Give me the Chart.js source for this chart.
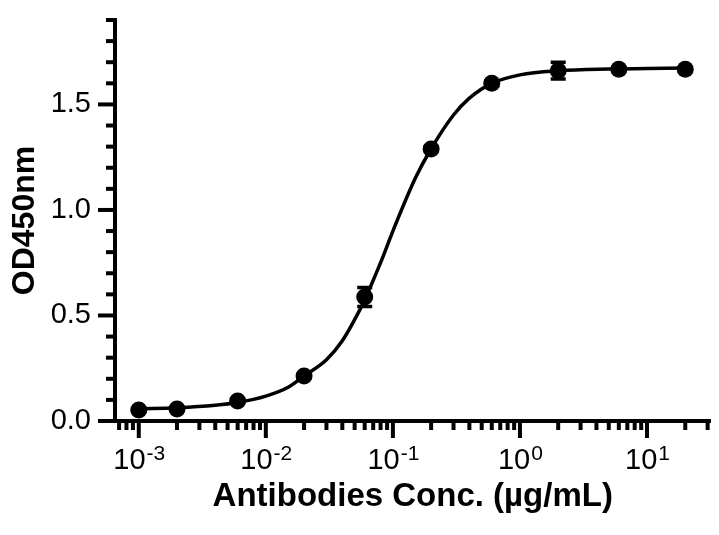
<!DOCTYPE html>
<html>
<head>
<meta charset="utf-8">
<script src="https://cdn.jsdelivr.net/npm/chart.js@4.4.1/dist/chart.umd.min.js"></script>
<style>
  html, body { margin: 0; padding: 0; background: #fff; }
  #wrap { width: 719px; height: 535px; }
</style>
</head>
<body>
<div id="wrap"><canvas id="chart"></canvas></div>
<script>
// Measured points (mean +/- error)
const conc = [0.001, 0.002, 0.006, 0.02, 0.06, 0.2, 0.6, 2, 6, 20];
const od = [0.052, 0.057, 0.095, 0.213, 0.588, 1.289, 1.60, 1.66, 1.667, 1.667];
const odErr = [0.008, 0.006, 0.008, 0.01, 0.045, 0.012, 0.012, 0.04, 0.01, 0.008];

// Fitted curve
const fitConc = [0.001, 0.002, 0.004, 0.006, 0.01, 0.015, 0.02, 0.03, 0.04, 0.05, 0.06, 0.08,
                 0.1, 0.15, 0.2, 0.3, 0.4, 0.6, 1, 2, 5, 10, 20];
const fitOd = [0.058, 0.063, 0.075, 0.088, 0.118, 0.16, 0.213, 0.29, 0.38, 0.48, 0.575, 0.75,
               0.90, 1.15, 1.29, 1.45, 1.53, 1.60, 1.64, 1.66, 1.668, 1.67, 1.672];

const xMin = 6.5e-4, xMax = 31.6;
const yMin = 0, yMax = 1.9;
const xDecades = [-3, -2, -1, 0, 1];
const yMajor = [0, 0.5, 1.0, 1.5];

const FONT = '"Liberation Sans", Arial, Helvetica, sans-serif';

// Axis tick marks, superscript x labels and error bars
const axisDecor = {
    id: 'axisDecor',
    afterDatasetsDraw(chart) {
        const { ctx, scales: { x, y } } = chart;
        ctx.save();
        ctx.strokeStyle = '#000';
        ctx.lineWidth = 3.5;
        conc.forEach((c, i) => {
            const px = x.getPixelForValue(c);
            const top = y.getPixelForValue(od[i] + odErr[i]);
            const bot = y.getPixelForValue(od[i] - odErr[i]);
            ctx.beginPath();
            ctx.moveTo(px, top); ctx.lineTo(px, bot);
            ctx.moveTo(px - 7.5, top); ctx.lineTo(px + 7.5, top);
            ctx.moveTo(px - 7.5, bot); ctx.lineTo(px + 7.5, bot);
            ctx.stroke();
        });
        ctx.restore();
    },
    afterDraw(chart) {
        const { ctx, chartArea, scales: { x, y } } = chart;
        ctx.save();
        ctx.strokeStyle = '#000';
        ctx.lineWidth = 4;
        ctx.lineCap = 'butt';

        // y ticks
        y.ticks.forEach(t => {
            const py = y.getPixelForValue(t.value);
            const major = yMajor.some(m => Math.abs(m - t.value) < 1e-6);
            const len = major ? 17 : 9;
            ctx.beginPath();
            ctx.moveTo(chartArea.left, py);
            ctx.lineTo(chartArea.left - len, py);
            ctx.stroke();
        });

        // x ticks (1..9 per decade)
        for (let e = -4; e <= 1; e++) {
            for (let m = 1; m <= 9; m++) {
                const v = m * Math.pow(10, e);
                if (v < xMin || v > xMax) continue;
                const px = x.getPixelForValue(v);
                const len = m === 1 ? 17 : 9;
                ctx.beginPath();
                ctx.moveTo(px, chartArea.bottom);
                ctx.lineTo(px, chartArea.bottom + len);
                ctx.stroke();
            }
        }

        // x labels 10^n
        ctx.fillStyle = '#000';
        ctx.textBaseline = 'alphabetic';
        xDecades.forEach(e => {
            const px = x.getPixelForValue(Math.pow(10, e));
            ctx.font = '29px ' + FONT;
            const wBase = ctx.measureText('10').width;
            ctx.font = '21px ' + FONT;
            const sup = e < 0 ? '-' + Math.abs(e) : String(e);
            const wSup = ctx.measureText(sup).width;
            const start = px - (wBase + wSup) / 2;
            ctx.font = '29px ' + FONT;
            ctx.textAlign = 'left';
            ctx.fillText('10', start, chartArea.bottom + 48);
            ctx.font = '21px ' + FONT;
            ctx.fillText(sup, start + wBase + 1, chartArea.bottom + 39);
        });
        ctx.restore();
    }
};

new Chart(document.getElementById('chart'), {
    type: 'line',
    data: {
        datasets: [{
            label: 'Fit',
            data: fitConc.map((c, i) => ({ x: c, y: fitOd[i] })),
            borderColor: '#000',
            borderWidth: 3.5,
            pointRadius: 0,
            cubicInterpolationMode: 'monotone',
            fill: false
        }, {
            label: 'OD450nm',
            data: conc.map((c, i) => ({ x: c, y: od[i] })),
            showLine: false,
            pointRadius: 8.5,
            pointBackgroundColor: '#000',
            pointBorderColor: '#000',
            pointBorderWidth: 0
        }]
    },
    options: {
        responsive: true,
        maintainAspectRatio: false,
        animation: false,
        devicePixelRatio: 1,
        layout: { padding: { top: 20, right: -4, left: 0, bottom: 0 } },
        plugins: {
            legend: { display: false },
            tooltip: { enabled: false }
        },
        scales: {
            x: {
                type: 'logarithmic',
                min: xMin,
                max: xMax,
                afterFit: (scale) => {
                    scale.height = 114;
                    scale.paddingLeft = 0;
                    scale.paddingRight = 0;
                },
                grid: { display: false },
                border: { display: true, color: '#000', width: 4 },
                ticks: { callback: () => '' },
                title: {
                    display: true,
                    text: 'Antibodies Conc. (µg/mL)',
                    color: '#000',
                    font: { family: FONT, size: 33, weight: 'bold' },
                    padding: { top: 0, bottom: 18 }
                }
            },
            y: {
                min: yMin,
                max: yMax,
                afterFit: (scale) => {
                    scale.width = 115;
                    scale.paddingTop = 0;
                    scale.paddingBottom = 0;
                },
                grid: { display: false },
                border: { display: true, color: '#000', width: 4 },
                ticks: {
                    stepSize: 0.1,
                    autoSkip: false,
                    padding: 16,
                    color: '#000',
                    font: { family: FONT, size: 29 },
                    callback: (v) => yMajor.some(m => Math.abs(m - v) < 1e-6) ? v.toFixed(1) : ''
                },
                title: {
                    display: true,
                    text: 'OD450nm',
                    color: '#000',
                    font: { family: FONT, size: 32, weight: 'bold' },
                    padding: { top: 6, bottom: 0 }
                }
            }
        }
    },
    plugins: [axisDecor]
});
</script>
</body>
</html>
